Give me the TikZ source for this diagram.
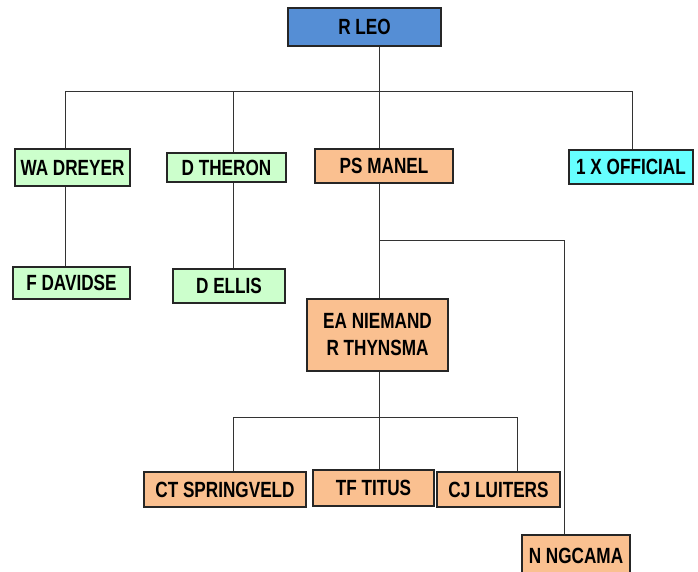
\documentclass[tikz,border=0pt]{standalone}
\usepackage{fontspec}
\setmainfont{Liberation Sans}[FakeStretch=0.78]
\usepackage{tikz}

\definecolor{leoblue}{HTML}{558ED5}
\definecolor{staffgreen}{HTML}{CCFFCC}
\definecolor{staffpeach}{HTML}{FAC090}
\definecolor{staffcyan}{HTML}{66FFFF}

\tikzset{
  person/.style={draw=black!85, line width=1.2pt, font=\fontsize{22}{27}\selectfont\bfseries,
    inner sep=0pt, align=center},
  link/.style={draw=black!80, line width=0.9pt}
}

\begin{document}
\begin{tikzpicture}[x=1pt,y=-1pt]
% page is 698 x 572, coordinates in pixels from the top left
\clip (0,0) rectangle (698,572);
\useasboundingbox (0,0) rectangle (698,572);
% the boxes
\node[person, fill=leoblue, minimum width=153pt, minimum height=38pt] (leo) at (364.5,27) {R LEO};
\node[person, fill=staffgreen, minimum width=115pt, minimum height=37pt] (dreyer) at (72.5,167.5) {WA DREYER};
\node[person, fill=staffgreen, minimum width=119pt, minimum height=29pt] (theron) at (226.5,167.5) {D THERON};
\node[person, fill=staffpeach, minimum width=138pt, minimum height=34pt] (manel) at (384,166) {PS MANEL};
\node[person, fill=staffcyan, minimum width=124pt, minimum height=34pt] (official) at (631,167) {1 X OFFICIAL};
\node[person, fill=staffgreen, minimum width=117pt, minimum height=32pt] (davidse) at (71.5,283) {F DAVIDSE};
\node[person, fill=staffgreen, minimum width=112pt, minimum height=34pt] (ellis) at (229,286) {D ELLIS};
\node[person, fill=staffpeach, minimum width=141pt, minimum height=72pt] (niemand) at (377.5,335) {EA NIEMAND\\R THYNSMA};
\node[person, fill=staffpeach, minimum width=162pt, minimum height=35pt] (springveld) at (225,489.5) {CT SPRINGVELD};
\node[person, fill=staffpeach, minimum width=121pt, minimum height=36pt] (titus) at (373.5,488) {TF TITUS};
\node[person, fill=staffpeach, minimum width=123pt, minimum height=35pt] (luiters) at (498.5,489.5) {CJ LUITERS};
\node[person, fill=staffpeach, minimum width=108pt, minimum height=42pt] (ngcama) at (576,556) {N NGCAMA};
% bus points of the tree
\coordinate (trunk) at (379,91);
\coordinate (dbus) at (65,91);
\coordinate (tbus) at (233,91);
\coordinate (obus) at (632,91);
\coordinate (nbus) at (564,240);
\coordinate (sbus) at (233,417);
\coordinate (lbus) at (517,417);
% the connectors
\draw[link] (leo.south -| trunk) -- (manel.north -| trunk);
\draw[link] (dreyer.north -| dbus) |- (obus) -- (official.north -| obus);
\draw[link] (theron.north -| tbus) -- (tbus);
\draw[link] (dreyer.south -| dbus) -- (davidse.north -| dbus);
\draw[link] (theron.south -| tbus) -- (ellis.north -| tbus);
\draw[link] (manel.south -| trunk) -- (niemand.north -| trunk);
\draw[link] (trunk |- nbus) -- (nbus) -- (ngcama.north -| nbus);
\draw[link] (niemand.south -| trunk) -- (titus.north -| trunk);
\draw[link] (springveld.north -| sbus) |- (lbus) -- (luiters.north -| lbus);
\end{tikzpicture}
\end{document}
